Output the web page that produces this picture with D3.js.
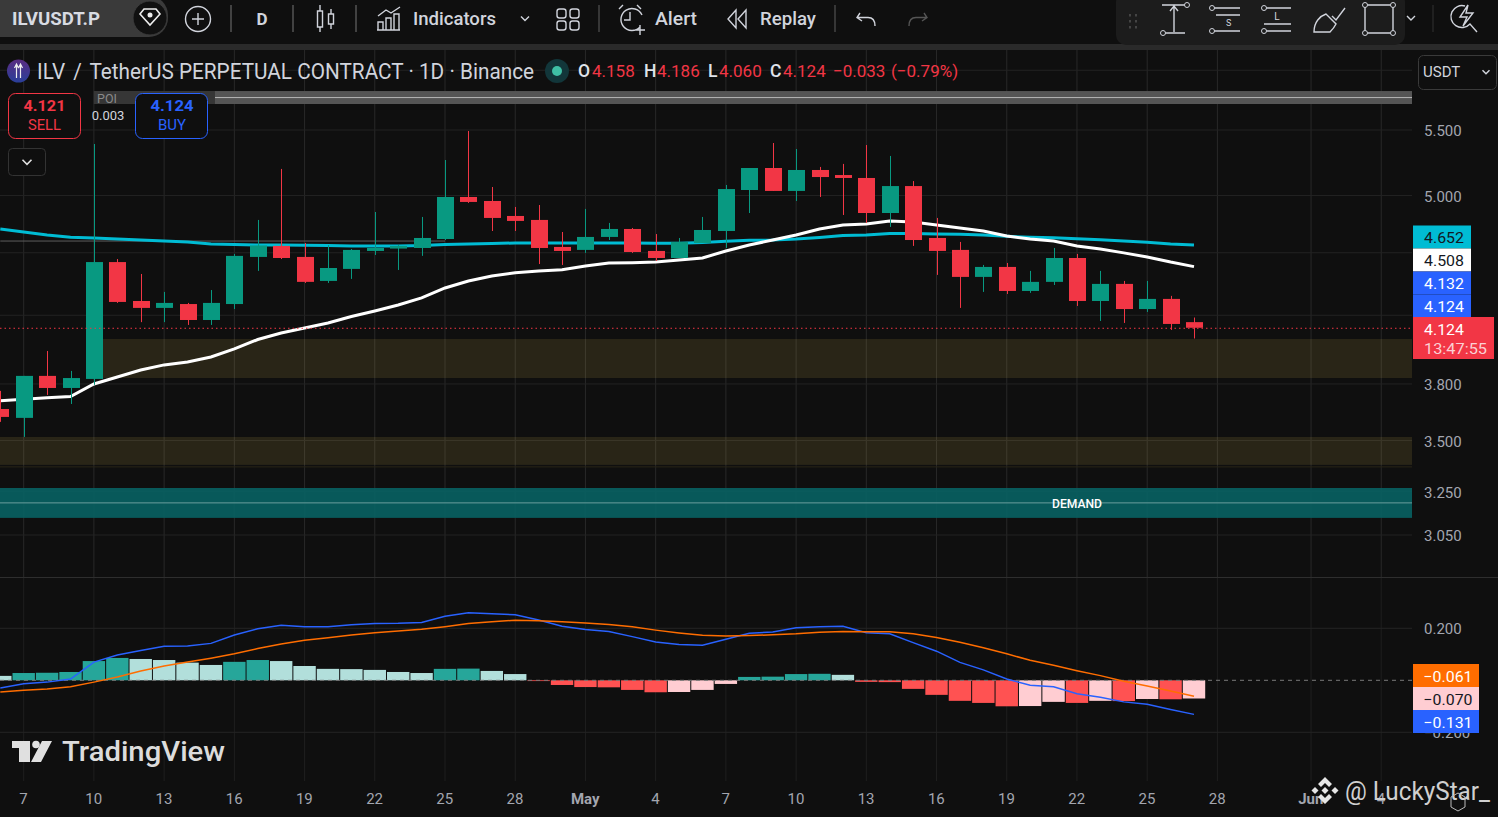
<!DOCTYPE html>
<html><head><meta charset="utf-8">
<style>html,body{margin:0;padding:0;background:#0f0f0f;overflow:hidden}svg{display:block}</style>
<script src="https://cdn.jsdelivr.net/npm/d3@7/dist/d3.min.js"></script>
</head><body><svg id="c" width="1498" height="817"></svg>
<script>
// ---- data ----
const firstIndex = -1; // Apr 6
const opens  = [3.664,3.617,3.845,3.778,3.828,4.538,4.288,4.245,4.269,4.171,4.269,4.572,4.646,4.572,4.415,4.493,4.612,4.628,4.632,4.693,4.989,4.960,4.853,4.825,4.639,4.619,4.707,4.762,4.612,4.565,4.666,4.748,5.040,5.204,5.033,5.189,5.151,5.129,4.874,5.069,4.700,4.619,4.441,4.506,4.351,4.409,4.565,4.288,4.396,4.238,4.301,4.158];
const highs  = [3.762,3.845,3.987,3.873,5.389,4.558,4.460,4.345,4.276,4.357,4.592,4.825,5.197,4.666,4.652,4.625,4.881,4.652,4.846,5.265,5.492,5.062,4.917,4.931,4.741,4.903,4.804,4.769,4.727,4.700,4.846,5.077,5.204,5.397,5.350,5.212,5.235,5.381,5.296,5.106,4.839,4.673,4.519,4.532,4.480,4.632,4.592,4.480,4.415,4.415,4.320,4.186];
const lows   = [3.596,3.518,3.740,3.691,3.795,4.276,4.158,4.158,4.141,4.141,4.238,4.480,4.558,4.402,4.402,4.428,4.585,4.486,4.579,4.686,4.946,4.748,4.748,4.525,4.519,4.599,4.686,4.599,4.545,4.565,4.666,4.632,4.874,5.033,4.960,4.989,4.860,4.804,4.776,4.646,4.454,4.245,4.345,4.332,4.339,4.389,4.257,4.165,4.153,4.220,4.111,4.060];
const closes = [3.622,3.845,3.778,3.833,4.538,4.282,4.245,4.276,4.171,4.276,4.579,4.649,4.565,4.409,4.499,4.619,4.632,4.646,4.700,4.989,4.953,4.839,4.818,4.632,4.612,4.707,4.762,4.605,4.565,4.673,4.755,5.047,5.204,5.033,5.189,5.136,5.129,4.874,5.069,4.686,4.612,4.441,4.506,4.351,4.409,4.565,4.288,4.396,4.238,4.301,4.147,4.124];
const whiteMA = [3.709,3.716,3.724,3.731,3.800,3.839,3.878,3.907,3.924,3.952,3.999,4.054,4.093,4.123,4.153,4.192,4.226,4.263,4.307,4.370,4.415,4.447,4.468,4.480,4.488,4.512,4.532,4.534,4.538,4.552,4.565,4.612,4.652,4.686,4.720,4.762,4.790,4.797,4.818,4.811,4.790,4.769,4.748,4.713,4.693,4.679,4.646,4.625,4.599,4.572,4.538,4.508];
const cyanMA  = [4.762,4.741,4.720,4.705,4.700,4.693,4.686,4.679,4.673,4.659,4.656,4.652,4.652,4.650,4.648,4.646,4.646,4.646,4.649,4.656,4.659,4.662,4.666,4.666,4.666,4.666,4.666,4.666,4.664,4.664,4.669,4.677,4.684,4.686,4.693,4.704,4.717,4.720,4.731,4.730,4.727,4.725,4.720,4.711,4.705,4.702,4.695,4.688,4.679,4.671,4.659,4.652];
const histogram = [0.017,0.028,0.029,0.032,0.074,0.086,0.082,0.078,0.068,0.059,0.071,0.078,0.074,0.055,0.044,0.043,0.040,0.032,0.028,0.044,0.045,0.036,0.024,-0.003,-0.018,-0.026,-0.027,-0.037,-0.046,-0.045,-0.037,-0.014,0.013,0.014,0.024,0.025,0.021,-0.006,-0.007,-0.033,-0.056,-0.079,-0.087,-0.100,-0.099,-0.083,-0.087,-0.079,-0.080,-0.072,-0.073,-0.070];
const macdLine = [-0.030,-0.013,-0.007,0.005,0.070,0.097,0.115,0.131,0.132,0.142,0.174,0.198,0.212,0.206,0.206,0.214,0.218,0.219,0.222,0.246,0.260,0.256,0.252,0.232,0.208,0.195,0.188,0.168,0.147,0.138,0.135,0.158,0.181,0.186,0.202,0.206,0.208,0.183,0.179,0.145,0.112,0.069,0.040,0.005,-0.019,-0.025,-0.052,-0.065,-0.083,-0.092,-0.112,-0.131];
const signalLine = [-0.045,-0.038,-0.033,-0.025,-0.007,0.013,0.036,0.055,0.070,0.085,0.102,0.122,0.140,0.154,0.164,0.174,0.183,0.190,0.196,0.206,0.218,0.225,0.231,0.229,0.225,0.220,0.215,0.206,0.193,0.182,0.173,0.170,0.172,0.175,0.179,0.185,0.188,0.187,0.187,0.179,0.165,0.146,0.125,0.102,0.077,0.058,0.037,0.018,-0.004,-0.022,-0.041,-0.061];
const timeTickIndex = [0,3,6,9,12,15,18,21,24,27,30,33,36,39,42,45,48,51,55,58];
const timeTickLabels = ["7","10","13","16","19","22","25","28","May","4","7","10","13","16","19","22","25","28","Jun","4"];
const priceTicks = [5.5,5.0,3.8,3.5,3.25,3.05];
const priceGrid = [6.0,5.5,5.0,4.6,4.2,3.8,3.5,3.25,3.05];
const macdTicks = [0.2,-0.2];
const zones = [[4.057,3.833,3],[3.518,3.378,-1]];
const zoneEdge = 3.368;
const demandZone = [3.266,3.127,3.196];
const poiZone = [5.821,5.712,5.766];
const lastPrice = 4.124, refLevel = 4.679;
const priceTags = [["4.652","#00bcd4","#131722"],["4.508","#ffffff","#131722"],["4.132","#2962ff","#ffffff"],["4.124","#2962ff","#ffffff"]];

// ---- scales ----
const svg = d3.select("#c");
const W = 1412;
const x = d3.scaleLinear().domain([0,50]).range([23.7,1194]);
const y = d3.scaleLog().domain([3.05,5.5]).range([535,130]);
const m = d3.scaleLinear().domain([-0.2,0.2]).range([732.3,628.3]);
const idx = opens.map((_,i)=>i+firstIndex);
const FONT = "Roboto, sans-serif";
const GREEN="#089981", RED="#f23645";

svg.append("rect").attr("width",1498).attr("height",817).attr("fill","#0f0f0f");
const defs = svg.append("defs");
defs.append("clipPath").attr("id","cp").append("rect").attr("x",0).attr("y",50).attr("width",W).attr("height",527);
defs.append("clipPath").attr("id","cm").append("rect").attr("x",0).attr("y",578).attr("width",W).attr("height",203);
const lg = defs.append("linearGradient").attr("id","coin").attr("x1",0).attr("y1",0).attr("x2",0).attr("y2",1);
lg.append("stop").attr("offset",0).attr("stop-color","#5a2d82");
lg.append("stop").attr("offset",1).attr("stop-color","#2a3f9a");

function tx(px,py,str,o={}){
  const t = (o.g||svg).append("text").attr("x",px).attr("y",py).text(str)
    .attr("fill",o.fill||"#d1d4dc").attr("font-family",o.font||FONT).attr("font-size",o.size||15)
    .attr("font-weight",o.weight||400).attr("text-anchor",o.anchor||"start").attr("dominant-baseline","central");
  if(o.len) t.attr("textLength",o.len).attr("lengthAdjust","spacingAndGlyphs");
  return t;
}

// ---- grid ----
const grid = svg.append("g");
grid.selectAll("line.v").data(timeTickIndex).join("line").attr("class","v")
  .attr("x1",d=>x(d)).attr("x2",d=>x(d)).attr("y1",50).attr("y2",577).attr("stroke","#292929");
grid.selectAll("line.w").data(timeTickIndex).join("line").attr("class","w")
  .attr("x1",d=>x(d)).attr("x2",d=>x(d)).attr("y1",578).attr("y2",781).attr("stroke","#1f1f1f");
grid.selectAll("line.h").data(priceGrid).join("line").attr("class","h")
  .attr("x1",0).attr("x2",W).attr("y1",d=>y(d)).attr("y2",d=>y(d)).attr("stroke","#232323");
grid.selectAll("line.m").data(macdTicks).join("line").attr("class","m")
  .attr("x1",0).attr("x2",W).attr("y1",d=>m(d)).attr("y2",d=>m(d)).attr("stroke","#232323");
svg.append("rect").attr("x",0).attr("y",577).attr("width",1498).attr("height",1).attr("fill","#2e2e2e");

// ---- main pane ----
const main = svg.append("g").attr("clip-path","url(#cp)");
main.selectAll("rect.z").data(zones).join("rect").attr("class","z")
  .attr("x",d=>d[2]<0?0:x(d[2])).attr("width",d=>W-(d[2]<0?0:x(d[2])))
  .attr("y",d=>y(d[0])).attr("height",d=>y(d[1])-y(d[0])).attr("fill","#c0a84a").attr("fill-opacity",.15);
main.append("line").attr("x1",0).attr("x2",W).attr("y1",y(zoneEdge)).attr("y2",y(zoneEdge)).attr("stroke","#2a2517");
main.append("rect").attr("x",0).attr("width",W).attr("y",y(demandZone[0])).attr("height",y(demandZone[1])-y(demandZone[0])).attr("fill","#085f60").attr("fill-opacity",.94);
main.append("line").attr("x1",0).attr("x2",W).attr("y1",y(demandZone[2])).attr("y2",y(demandZone[2])).attr("stroke","#6a9e9c");
tx(1077,y(demandZone[2])+1,"DEMAND",{g:main,size:12,fill:"#ffffff",anchor:"middle",weight:500,len:50});
// POI
main.append("rect").attr("x",x(3)).attr("width",W-x(3)).attr("y",y(poiZone[0])).attr("height",y(poiZone[1])-y(poiZone[0])).attr("fill","#555555");
main.append("rect").attr("x",x(3)).attr("width",121).attr("y",y(poiZone[0])).attr("height",y(poiZone[1])-y(poiZone[0])).attr("fill","#363636");
main.append("line").attr("x1",215).attr("x2",W).attr("y1",y(poiZone[2])).attr("y2",y(poiZone[2])).attr("stroke","#b5b5b5");
tx(97,y(poiZone[2])+.5,"POI",{g:main,size:12.5,fill:"#8a8a8a"});
main.append("line").attr("x1",x(-1)).attr("x2",x(18)).attr("y1",y(refLevel)).attr("y2",y(refLevel)).attr("stroke","#5c5c5c");

const lineP = d3.line().x((d,i)=>x(idx[i])).y(d=>y(d));
main.append("path").attr("d",lineP(cyanMA)).attr("fill","none").attr("stroke","#00bcd4").attr("stroke-width",3);
main.append("path").attr("d",lineP(whiteMA)).attr("fill","none").attr("stroke","#ffffff").attr("stroke-width",3);

const candles = main.selectAll("g.k").data(idx).join("g").attr("class","k");
const col = (_,j)=>closes[j]>=opens[j]?GREEN:RED;
candles.append("line").attr("x1",d=>Math.round(x(d))+.5).attr("x2",d=>Math.round(x(d))+.5)
  .attr("y1",(d,j)=>y(highs[j])).attr("y2",(d,j)=>y(lows[j])).attr("stroke",col);
candles.append("rect").attr("x",d=>Math.round(x(d))-8).attr("width",17)
  .attr("y",(d,j)=>y(Math.max(opens[j],closes[j])))
  .attr("height",(d,j)=>Math.max(1,Math.abs(y(opens[j])-y(closes[j])))).attr("fill",col);

main.append("line").attr("x1",0).attr("x2",W).attr("y1",y(lastPrice)+.5).attr("y2",y(lastPrice)+.5)
  .attr("stroke",RED).attr("stroke-dasharray","1.5 3");

// ---- MACD ----
const mp = svg.append("g").attr("clip-path","url(#cm)");
const hc = (v,j)=>{const prev=j>0?histogram[j-1]:Infinity;
  if(v>=0) return v>prev?"#26a69a":"#b2dfdb";
  return v<prev?"#ff5252":"#ffcdd2";};
mp.selectAll("rect.h").data(histogram).join("rect").attr("class","h")
  .attr("x",(d,j)=>x(idx[j])-11.2).attr("width",22.4)
  .attr("y",d=>Math.min(m(d),m(0))).attr("height",d=>Math.abs(m(d)-m(0))).attr("fill",hc);
mp.append("line").attr("x1",0).attr("x2",W).attr("y1",m(0)).attr("y2",m(0)).attr("stroke","#787878").attr("stroke-dasharray","4 4");
const lineM = d3.line().x((d,i)=>x(idx[i])).y(d=>m(d));
mp.append("path").attr("d",lineM(macdLine)).attr("fill","none").attr("stroke","#2962ff").attr("stroke-width",1.5);
mp.append("path").attr("d",lineM(signalLine)).attr("fill","none").attr("stroke","#ff6d00").attr("stroke-width",1.5);

// ---- axes ----
function styleAxis(g){g.select(".domain").remove();g.selectAll("line").remove();
  g.selectAll("text").attr("fill","#a3a6af").attr("font-family",FONT).attr("font-size",15);}
svg.append("g").attr("transform","translate(1424,1)")
  .call(d3.axisRight(y).tickValues(priceTicks).tickFormat(d3.format(".3f")).tickSize(0).tickPadding(0)).call(styleAxis);
svg.append("g").attr("transform","translate(1424,0)")
  .call(d3.axisRight(m).tickValues(macdTicks).tickFormat(d3.format(".3f")).tickSize(0).tickPadding(0)).call(styleAxis);
const labelByIndex = new Map(timeTickIndex.map((d,i)=>[d,timeTickLabels[i]]));
const xAxisG = svg.append("g").attr("transform","translate(-0.7,788.5)")
  .call(d3.axisBottom(x).tickValues(timeTickIndex).tickFormat(d=>labelByIndex.get(d)).tickSize(0).tickPadding(5)).call(styleAxis);
xAxisG.selectAll("text").filter(d=>labelByIndex.get(d)==="May"||labelByIndex.get(d)==="Jun").attr("font-weight",700);

// ---- price tags ----
const tagG = svg.append("g");
const tagY=[225.5,248.5,271.5,294.5];
tagG.selectAll("rect.t").data(priceTags).join("rect").attr("class","t")
  .attr("x",1413).attr("y",(d,i)=>tagY[i]).attr("width",58).attr("height",23).attr("fill",d=>d[1]);
priceTags.forEach((t,i)=>tx(1424,tagY[i]+12,t[0],{g:tagG,fill:t[2],size:15.5,len:40}));
tagG.append("rect").attr("x",1413).attr("y",317).attr("width",81).attr("height",42).attr("fill",RED);
tx(1424,329.5,lastPrice.toFixed(3),{g:tagG,fill:"#fff",size:15.5,len:40});
tx(1424,349,"13:47:55",{g:tagG,fill:"#fbd0d4",size:15,len:63});
const mTags=[["−0.061","#ff6d00","#fff",664],["−0.070","#ffcdd2","#131722",687],["−0.131","#2962ff","#fff",710]];
mTags.forEach(t=>{tagG.append("rect").attr("x",1413).attr("y",t[3]).attr("width",66).attr("height",23).attr("fill",t[1]);
  tx(1423.5,t[3]+12.5,t[0],{g:tagG,fill:t[2],size:15.5,len:49});});

// ---- header ----
svg.append("circle").attr("cx",18.5).attr("cy",71).attr("r",11.5).attr("fill","url(#coin)");
svg.append("path").attr("d","M16.5,64V78M20.5,64V78M14.5,68L16.5,64L18.5,68M18.5,68L20.5,64L22.5,68").attr("fill","none").attr("stroke","#eee").attr("stroke-width",1.2);
const head = tx(37,70.5,"",{size:22,fill:"#d1d4dc",len:497});
head.append("tspan").text("ILV ");
head.append("tspan").attr("dx",3).text("/ ");
head.append("tspan").attr("dx",3).text("TetherUS PERPETUAL CONTRACT · 1D · Binance");
svg.append("circle").attr("cx",557).attr("cy",71).attr("r",12).attr("fill","#12363a");
svg.append("circle").attr("cx",557).attr("cy",71).attr("r",5).attr("fill","#3fbfa5");
const ohlcL=[["O",578],["H",644],["L",708],["C",770]], ohlcV=[["4.158",592],["4.186",657],["4.060",719],["4.124",783],["−0.033",833],["(−0.79%)",891]];
ohlcL.forEach(a=>tx(a[1],70.5,a[0],{size:17.5,fill:"#e0e3eb",weight:500}));
ohlcV.forEach(a=>tx(a[1],70.5,a[0],{size:17,fill:RED}));

svg.append("rect").attr("x",1418.5).attr("y",55.5).attr("width",78).attr("height",34).attr("rx",5).attr("fill","#0f0f0f").attr("stroke","#3a3a3a");
tx(1423,72,"USDT",{size:15,fill:"#d1d4dc"});
const chev=(cx,cy,s,c="#d1d4dc",w=1.5)=>svg.append("path").attr("d",`M${cx-s},${cy-s/2}L${cx},${cy+s/2}L${cx+s},${cy-s/2}`).attr("fill","none").attr("stroke",c).attr("stroke-width",w);
chev(1486,72,3.5);

// sell/buy
svg.append("rect").attr("x",8.5).attr("y",93.5).attr("width",72).attr("height",45).attr("rx",7).attr("fill","#0f0f0f").attr("stroke",RED);
tx(44.5,106,"4.121",{size:15.5,fill:RED,anchor:"middle",weight:700,len:42});
tx(44.5,125,"SELL",{size:15,fill:RED,anchor:"middle",len:33});
svg.append("rect").attr("x",135.5).attr("y",93.5).attr("width",72).attr("height",45).attr("rx",7).attr("fill","#0f0f0f").attr("stroke","#2962ff");
tx(172,106,"4.124",{size:15.5,fill:"#2962ff",anchor:"middle",weight:700,len:43});
tx(172,125,"BUY",{size:15,fill:"#2962ff",anchor:"middle",len:28});
tx(108,115.5,"0.003",{size:13,fill:"#d1d4dc",anchor:"middle"});
svg.append("rect").attr("x",8.5).attr("y",148.5).attr("width",37).attr("height",27).attr("rx",4).attr("fill","#0f0f0f").attr("stroke","#333");
chev(27,162,4.5,"#e0e0e0",1.6);

// ---- toolbar ----
svg.append("rect").attr("x",0).attr("y",0).attr("width",1498).attr("height",44).attr("fill","#0f0f0f");
svg.append("rect").attr("x",0).attr("y",44).attr("width",1498).attr("height",6).attr("fill","#2a2a2a");
svg.append("rect").attr("x",-20).attr("y",-4).attr("width",188).attr("height",41).attr("rx",19).attr("fill","#3a3a3a");
svg.append("circle").attr("cx",150).attr("cy",18).attr("r",17).attr("fill","#111").attr("stroke","#3a3a3a");
svg.append("path").attr("d","M140,14L144,9H156L160,14L150,25Z").attr("fill","none").attr("stroke","#eee").attr("stroke-width",1.6);
svg.append("circle").attr("cx",150).attr("cy",15).attr("r",2.5).attr("fill","#eee");
tx(12,19,"ILVUSDT.P",{size:17.5,weight:700,fill:"#d8dbe2",len:88});
svg.append("circle").attr("cx",198).attr("cy",19).attr("r",12.5).attr("fill","none").attr("stroke","#d1d4dc").attr("stroke-width",1.4);
svg.append("path").attr("d","M198,13V25M192,19H204").attr("stroke","#d1d4dc").attr("stroke-width",1.4);
[231,293,356,599,835].forEach(s=>svg.append("line").attr("x1",s).attr("x2",s).attr("y1",5).attr("y2",32).attr("stroke",s>500?"#444":"#555").attr("stroke-width",1.5));
tx(262,19,"D",{size:17,weight:700,fill:"#d1d4dc",anchor:"middle"});
const ic = p=>svg.append("path").attr("d",p).attr("fill","none").attr("stroke","#d1d4dc").attr("stroke-width",1.4);
ic("M317.5,11H322.5V27H317.5ZM320,5V11M320,27V32M328.5,14H333.5V24H328.5ZM331,9V14M331,24V29");
ic("M378,30V22H383V30ZM386,30V18H391V30ZM394,30V14H399V30ZM377,30H400M378,16L386,10L391,13L400,7");
tx(413,19,"Indicators",{size:17.5,weight:500,len:83});
chev(525,18.5,4,"#d1d4dc",1.4);
[[557,9],[570,9],[557,21],[570,21]].forEach(p=>svg.append("rect").attr("x",p[0]).attr("y",p[1]).attr("width",9).attr("height",9).attr("rx",2.5).attr("fill","none").attr("stroke","#d1d4dc").attr("stroke-width",1.4));
ic("M640,27A11,11 0 1 1 642,15M630,12V20H624M619,9L623,5M641,9L637,5M635,30H645M640,25V35");
tx(655,19,"Alert",{size:17.5,weight:500,len:42});
ic("M736,10L728,19L736,28ZM746,10L738,19L746,28Z");
tx(760,19,"Replay",{size:17.5,weight:500,len:56});
ic("M860,13L857,17.5L862,21M857.5,17.5H868C873,17.5 875,21 875,26");
svg.append("path").attr("d","M924,13L927,17.5L922,21M926.5,17.5H916C911,17.5 909,21 909,26").attr("fill","none").attr("stroke","#555").attr("stroke-width",1.4);
svg.append("rect").attr("x",1116).attr("y",-8).attr("width",289).attr("height",53).attr("rx",10).attr("fill","#1c1c1c");
[[1129,14],[1135,14],[1129,20],[1135,20],[1129,26],[1135,26]].forEach(p=>svg.append("rect").attr("x",p[0]).attr("y",p[1]).attr("width",2).attr("height",2.5).attr("fill","#444"));
const dot=(cx,cy)=>svg.append("circle").attr("cx",cx).attr("cy",cy).attr("r",2.5).attr("fill","#1c1c1c").attr("stroke","#d1d4dc");
ic("M1162,5H1185M1174,6V32M1170,11L1174,6L1178,11M1165,33H1185");
dot(1187,5);dot(1163,33);
ic("M1213,8H1240M1216,15H1240M1213,31H1240");
dot(1212,8);dot(1212,31);
tx(1226,23,"S",{size:9});
ic("M1264,8H1291M1264,24H1291M1264,31H1291");
dot(1264,8);dot(1264,31);
tx(1277,16,"L",{size:10,anchor:"middle"});
ic("M1314,32C1314,22 1320,16 1326,14L1336,24C1334,28 1332,30 1330,32ZM1332,16L1336,20L1345,8");
ic("M1365,5H1393V33H1365Z");
[[1365,5],[1393,5],[1365,33],[1393,33]].forEach(p=>dot(p[0],p[1]));
chev(1411,18,4,"#d1d4dc",1.4);
svg.append("line").attr("x1",1433).attr("x2",1433).attr("y1",5).attr("y2",32).attr("stroke","#333");
ic("M1465,6A11,11 0 1 0 1470,24L1477,32M1468,5L1460,17H1467L1463,26L1473,13H1466Z");

// ---- logo + watermark ----
svg.append("path").attr("d","M12,741H30V762H19V748H12ZM42,741H52L41,762H31Z").attr("fill","#e0e0e0");
svg.append("circle").attr("cx",36).attr("cy",744.5).attr("r",3.8).attr("fill","#e0e0e0");
tx(62,752,"TradingView",{size:27,weight:500,fill:"#dcdcdc",len:163});
// Binance mark
const bin = svg.append("g").attr("fill","#e6e6e6");
bin.append("path").attr("d","M1325,777L1332,784L1329,787L1325,783L1321,787L1318,784Z");
bin.append("path").attr("d","M1325,804L1332,797L1329,794L1325,798L1321,794L1318,797Z");
bin.selectAll("path.d").data([[1315,790.5],[1335,790.5],[1325,790.5]]).join("path").attr("class","d")
  .attr("d",d=>`M${d[0]-3.5},${d[1]}L${d[0]},${d[1]-3.5}L${d[0]+3.5},${d[1]}L${d[0]},${d[1]+3.5}Z`);
tx(1345,791,"@ LuckyStar_",{size:25,fill:"#d0d0d0",len:145});
svg.append("path").attr("d","M1451,797L1458,793L1465,797V807L1458,811L1451,807Z").attr("fill","none").attr("stroke","#bbb");
</script></body></html>
